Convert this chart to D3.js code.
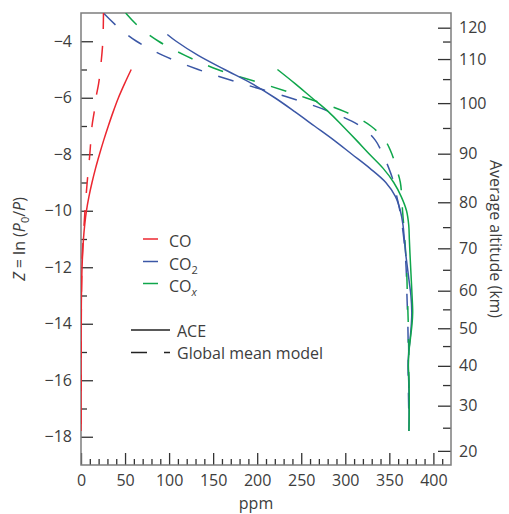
<!DOCTYPE html>
<html>
<head>
<meta charset="utf-8">
<script src="https://cdn.jsdelivr.net/npm/d3@7"></script>
<style>
  body { margin: 0; background: #fff; }
  svg text { font-family: "Open Sans", "DejaVu Sans", sans-serif; fill: #3d3d3d; }
</style>
</head>
<body>
<svg id="chart" width="509" height="514"></svg>
<script>
// CO (ACE, solid)
const zCoAce = [-5, -5.5, -6, -6.5, -7, -7.5, -8, -8.5, -9, -9.5, -10, -10.5, -11, -12, -13, -14, -16, -17.8];
const coAce = [57, 49.5, 42.5, 36.5, 31, 25.8, 21, 16.5, 12.5, 9, 6.2, 4.2, 2.8, 1.2, 0.5, 0.2, 0.05, 0];

// CO (model, dashed)
const zCoMod = [-3, -4, -5, -5.5, -6, -6.5, -7, -8, -9, -10, -11, -12, -14, -18];
const coMod = [25.5, 24.8, 22, 20, 17, 15, 12.5, 10, 7, 4.5, 2.5, 1, 0.3, 0];

// CO2 (ACE, solid)
const zCo2Ace = [-3.76, -4, -4.5, -5, -5.5, -6, -6.5, -7, -7.5, -8, -8.5, -9, -9.5, -10, -10.5, -11, -11.5, -12, -12.5, -13, -13.6, -14, -14.5, -15, -15.5, -16, -17, -17.8];
const co2Ace = [98, 108, 133, 163, 194, 220, 243, 265, 287, 307.5, 328, 346, 357, 362.5, 365.5, 367, 368.5, 370.5, 372.5, 374.5, 375.5, 375, 373.7, 372, 371.4, 372, 372.4, 372.2];

// CO2 (model, dashed)
const zCo2Mod = [-3.02, -3.5, -4, -4.5, -5, -5.5, -6, -6.5, -7, -7.5, -8, -8.5, -9, -9.5, -10, -11, -12, -13, -14, -15, -16, -17];
const co2Mod = [26, 42, 63, 93, 133, 183, 237, 283, 317, 334, 342.5, 349.5, 355, 358.5, 362, 366.5, 369, 370, 371, 371.5, 371.5, 372];

// COx (ACE, solid)
const zCoxAce = [-5, -5.5, -6, -6.5, -7, -7.5, -8, -8.5, -9, -9.5, -10, -10.5, -11, -11.5, -12, -12.5, -13, -13.6, -14, -14.5, -15, -15.5, -16, -17, -17.8];
const coxAce = [223, 243, 262, 281, 297, 312.5, 327.5, 343, 355, 363.5, 369.5, 372, 372.7, 373.4, 374.2, 375, 375.8, 376.5, 375.8, 374, 372.2, 371.6, 372.3, 372.6, 372.3];

// COx (model, dashed)
const zCoxMod = [-3, -3.5, -4, -4.5, -5, -5.5, -6, -6.5, -7, -7.5, -8, -8.5, -9, -10, -11, -12, -13, -14, -15, -16, -17];
const coxMod = [50.7, 66, 88, 118, 155, 206, 255, 300, 329, 345, 353, 358, 362.5, 365, 367.5, 369.5, 370.5, 371.5, 372, 372, 372.5];

// Axis ticks
const zMajor = [-18, -16, -14, -12, -10, -8, -6, -4];
const zMinor = [-17, -15, -13, -11, -9, -7, -5];
const ppmMajor = [0, 50, 100, 150, 200, 250, 300, 350, 400];
const ppmMinor = d3.range(10, 420, 10).filter(v => v % 50 !== 0);

// Average altitude (km) and where it sits on the Z axis
const altKm = [20, 25, 30, 35, 40, 45, 50, 55, 60, 65, 70, 75, 80, 85, 90, 95, 100, 105, 110, 115, 120];
const altZ = [-18.50, -17.68, -16.90, -16.17, -15.49, -14.79, -14.16, -13.49, -12.83, -12.09, -11.33, -10.58, -9.70, -8.87, -7.98, -7.07, -6.19, -5.34, -4.63, -4.01, -3.52];
const altMajor = [20, 30, 40, 50, 60, 70, 80, 90, 100, 110, 120];
const altMinor = [25, 35, 45, 55, 65, 75, 85, 95, 105, 115];

const colors = { CO: '#ec2730', CO2: '#3b57a6', COx: '#0fa64b' };

const plot = { left: 81, right: 451, top: 13, bottom: 465 };

const svg = d3.select('#chart');

const x = d3.scaleLinear().domain([0, 420]).range([plot.left, plot.right]);
const y = d3.scaleLinear().domain([-19, -3]).range([plot.bottom, plot.top]);
const yAlt = d3.scaleLinear().domain(altKm).range(altZ.map(z => y(z)));

// clip
svg.append('clipPath').attr('id', 'clip')
    .append('rect')
    .attr('x', plot.left).attr('y', plot.top)
    .attr('width', plot.right - plot.left).attr('height', plot.bottom - plot.top);

// Axes
function styleAxis(g) {
    g.select('.domain').remove();
    g.selectAll('.tick line').attr('stroke', '#333').attr('stroke-width', 1.3);
    g.selectAll('.tick text').style('font-size', '16px').attr('fill', '#3d3d3d');
}

svg.append('g')
    .attr('transform', `translate(${plot.left},0)`)
    .call(d3.axisLeft(y).tickValues(zMajor).tickSize(-12).tickPadding(9)
        .tickFormat(d => String(d).replace('-', '\u2212')))
    .call(styleAxis);
svg.append('g')
    .attr('transform', `translate(${plot.left},0)`)
    .call(d3.axisLeft(y).tickValues(zMinor).tickSize(-6).tickFormat(''))
    .call(styleAxis);

svg.append('g')
    .attr('transform', `translate(0,${plot.bottom})`)
    .call(d3.axisBottom(x).tickValues(ppmMajor).tickSize(-12).tickPadding(10))
    .call(styleAxis);
svg.append('g')
    .attr('transform', `translate(0,${plot.bottom})`)
    .call(d3.axisBottom(x).tickValues(ppmMinor).tickSize(-6).tickFormat(''))
    .call(styleAxis);

svg.append('g')
    .attr('transform', `translate(${plot.right},0)`)
    .call(d3.axisRight(yAlt).tickValues(altMajor).tickSize(-13).tickPadding(8))
    .call(styleAxis);
svg.append('g')
    .attr('transform', `translate(${plot.right},0)`)
    .call(d3.axisRight(yAlt).tickValues(altMinor).tickSize(-8).tickFormat(''))
    .call(styleAxis);

// Frame
svg.append('rect')
    .attr('x', plot.left).attr('y', plot.top)
    .attr('width', plot.right - plot.left).attr('height', plot.bottom - plot.top)
    .attr('fill', 'none').attr('stroke', '#7d7d7d').attr('stroke-width', 1.5);

// Curves
const line = d3.line()
    .x(d => x(d[0]))
    .y(d => y(d[1]))
    .curve(d3.curveCatmullRom);

const series = [
    { vals: co2Mod, z: zCo2Mod, color: colors.CO2, dash: true },
    { vals: coxMod, z: zCoxMod, color: colors.COx, dash: true },
    { vals: coMod, z: zCoMod, color: colors.CO, dash: true },
    { vals: co2Ace, z: zCo2Ace, color: colors.CO2, dash: false },
    { vals: coxAce, z: zCoxAce, color: colors.COx, dash: false },
    { vals: coAce, z: zCoAce, color: colors.CO, dash: false }
];

const curves = svg.append('g').attr('clip-path', 'url(#clip)');
series.forEach(s => {
    curves.append('path')
        .datum(s.vals.map((v, i) => [v, s.z[i]]))
        .attr('d', line)
        .attr('fill', 'none')
        .attr('stroke', s.color)
        .attr('stroke-width', 1.5)
        .attr('stroke-dasharray', s.dash ? '16,17' : null);
});

// Legend
const legendItems = [
    { name: 'CO', sub: null, color: colors.CO, y: 239 },
    { name: 'CO', sub: '2', color: colors.CO2, y: 261.5 },
    { name: 'CO', sub: 'x', color: colors.COx, y: 283.5 }
];
const legend = svg.append('g');
legendItems.forEach(d => {
    legend.append('line')
        .attr('x1', 143).attr('x2', 158)
        .attr('y1', d.y).attr('y2', d.y)
        .attr('stroke', d.color).attr('stroke-width', 1.5);
    const t = legend.append('text')
        .attr('x', 169).attr('y', d.y + 8)
        .style('font-size', '16px')
        .attr('fill', d.color);
    t.append('tspan').text(d.name);
    if (d.sub) {
        t.append('tspan')
            .attr('dy', 4)
            .style('font-size', '11px')
            .style('font-style', d.sub === 'x' ? 'italic' : 'normal')
            .text(d.sub);
    }
});

legend.append('line')
    .attr('x1', 131).attr('x2', 170)
    .attr('y1', 330).attr('y2', 330)
    .attr('stroke', '#222').attr('stroke-width', 1.5);
legend.append('text')
    .attr('x', 177).attr('y', 336.5)
    .style('font-size', '16px')
    .text('ACE');
legend.append('line')
    .attr('x1', 131).attr('x2', 170)
    .attr('y1', 352.5).attr('y2', 352.5)
    .attr('stroke', '#222').attr('stroke-width', 1.5)
    .attr('stroke-dasharray', '16,17');
legend.append('text')
    .attr('x', 177).attr('y', 359)
    .style('font-size', '16px')
    .text('Global mean model');

// Axis titles
svg.append('text')
    .attr('x', (plot.left + plot.right) / 2 - 10)
    .attr('y', 509)
    .attr('text-anchor', 'middle')
    .style('font-size', '16px')
    .text('ppm');

const zTitle = svg.append('text')
    .attr('transform', `translate(25,${(plot.top + plot.bottom) / 2}) rotate(-90)`)
    .attr('text-anchor', 'middle')
    .style('font-size', '16px');
zTitle.append('tspan').style('font-style', 'italic').text('Z');
zTitle.append('tspan').text(' = ln (');
zTitle.append('tspan').style('font-style', 'italic').text('P');
zTitle.append('tspan').attr('dy', 4).style('font-size', '11px').text('0');
zTitle.append('tspan').attr('dy', -4).text('/');
zTitle.append('tspan').style('font-style', 'italic').text('P');
zTitle.append('tspan').text(')');

svg.append('text')
    .attr('transform', `translate(490,${(plot.top + plot.bottom) / 2}) rotate(90)`)
    .attr('text-anchor', 'middle')
    .style('font-size', '16px')
    .text('Average altitude (km)');
</script>
</body>
</html>
